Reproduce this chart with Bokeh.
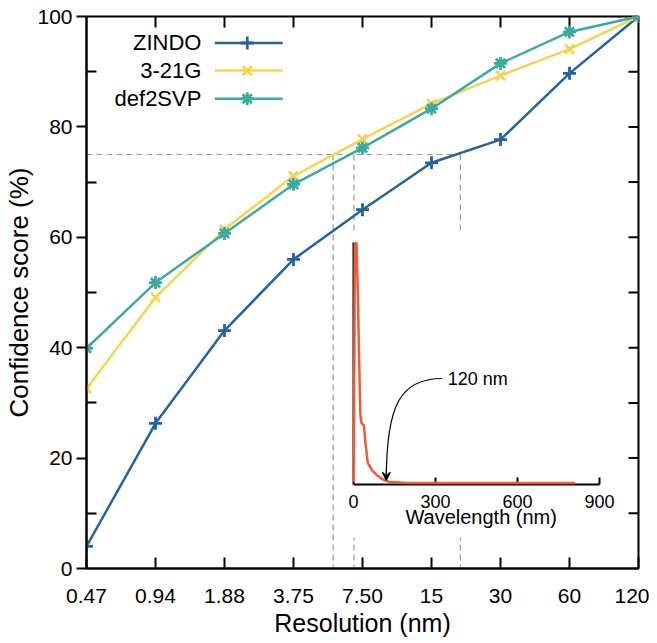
import math
from bokeh.plotting import figure
from bokeh.models import Range1d, LinearAxis, FixedTicker, Arrow, VeeHead
from bokeh.core.properties import value
from bokeh.embed import file_html
from bokeh.resources import INLINE

# ---------------- data ----------------
resolutions = ["0.47", "0.94", "1.88", "3.75", "7.50", "15", "30", "60", "120"]
zindo = [4.0, 26.3, 43.1, 56.0, 65.0, 73.5, 77.7, 89.7, 100.0]
basis_321g = [32.6, 49.1, 61.4, 71.1, 77.8, 84.2, 89.3, 94.1, 100.0]
def2svp = [39.9, 51.8, 60.7, 69.6, 76.2, 83.3, 91.5, 97.2, 100.0]
series_names = ["ZINDO", "3-21G", "def2SVP"]

threshold = 75
# resolution (nm) at which each series reaches the threshold
res_at_threshold = [20.1, 5.6, 6.9]   # ZINDO, 3-21G, def2SVP

y_ticks = [0, 20, 40, 60, 80, 100]
y_minor = [10, 30, 50, 70, 90]

# inset spectrum
wavelength = [1, 5, 11, 16, 20, 25, 29, 38, 44, 52, 68, 87, 111, 135, 196, 400, 600, 812]
intensity = [0.01, 0.99, 1.0, 0.79, 0.55, 0.29, 0.255, 0.244, 0.17, 0.09, 0.058, 0.037,
             0.018, 0.010, 0.006, 0.006, 0.006, 0.006]
inset_ticks = [0, 300, 600, 900]
annot_wl = 120
annot_text = "120 nm"

# ---------------- style ----------------
FONT = "Liberation Sans"
colors = ["#23639f", "#f5d452", "#3aab9c"]
markers = ["cross", "x", "asterisk"]

W, H = 649, 643
BL, BR, BT, BB = 86, 11, 16, 75
FRAME_W, FRAME_H = W - BL - BR, H - BT - BB

p = figure(width=W, height=H,
           x_range=Range1d(0, len(resolutions) - 1), y_range=Range1d(0, 100),
           output_backend="svg", toolbar_location=None,
           x_axis_location=None, y_axis_location=None,
           min_border_left=BL, min_border_right=BR, min_border_top=BT, min_border_bottom=BB)
p.grid.visible = False
p.outline_line_color = "black"
p.outline_line_width = 2
p.background_fill_color = "white"
p.border_fill_color = "white"

idx = list(range(len(resolutions)))

def style_axis(ax):
    ax.axis_line_width = 2
    ax.axis_line_color = "black"
    ax.major_tick_line_width = 2
    ax.minor_tick_line_width = 2
    ax.major_tick_line_color = "black"
    ax.minor_tick_line_color = "black"
    ax.major_label_text_font = FONT
    ax.major_label_text_font_size = "21px"
    ax.major_label_text_color = "black"
    ax.axis_label_text_font = FONT
    ax.axis_label_text_font_style = "normal"
    ax.axis_label_text_color = "black"

bottom = LinearAxis(ticker=FixedTicker(ticks=idx),
                    major_label_overrides={i: s for i, s in enumerate(resolutions)},
                    axis_label="Resolution (nm)")
style_axis(bottom)
bottom.major_tick_in = 11
bottom.major_tick_out = 0
bottom.major_label_standoff = 20
bottom.axis_label_standoff = 3
bottom.axis_label_text_font_size = "25px"
p.add_layout(bottom, "below")

left = LinearAxis(ticker=FixedTicker(ticks=y_ticks, minor_ticks=y_minor),
                  axis_label="Confidence score (%)")
style_axis(left)
left.major_tick_out = 10
left.major_tick_in = 0
left.minor_tick_in = 10
left.minor_tick_out = 0
left.major_label_standoff = 4
left.axis_label_standoff = 0
left.axis_label_text_font_size = "26px"
p.add_layout(left, "left")

# mirrored ticks on top and right (pointing inwards)
px_x = FRAME_W / (len(resolutions) - 1)
px_y = FRAME_H / 100.0
tick_color = dict(line_color="black", line_width=2)
inner = idx[1:-1]
p.segment(x0=inner, y0=[100] * len(inner), x1=inner, y1=[100 - 11 / px_y] * len(inner), **tick_color)
ry = sorted(y_ticks[1:-1] + y_minor)
p.segment(x0=[idx[-1]] * len(ry), y0=ry, x1=[idx[-1] - 10 / px_x] * len(ry), y1=ry, **tick_color)

# ---------------- threshold guide lines ----------------
cross_idx = [math.log2(r / float(resolutions[0])) for r in res_at_threshold]
guide = dict(line_color="#9a9a9a", line_width=1.2, line_dash="6 4")
p.segment(x0=[0], y0=[threshold], x1=[max(cross_idx)], y1=[threshold], **guide)
p.segment(x0=cross_idx, y0=[threshold] * 3, x1=cross_idx, y1=[0] * 3, **guide)

# ---------------- inset (mapped into frame fractions) ----------------
fx0, fx1 = (353 - 86) / 552, (599 - 86) / 552
fy0, fy1 = (568 - 484) / 552, (568 - 242) / 552
xspan = inset_ticks[-1]
x_start = -fx0 / (fx1 - fx0) * xspan
x_end = (1 - fx0) / (fx1 - fx0) * xspan
y_start = -fy0 / (fy1 - fy0)
y_end = (1 - fy0) / (fy1 - fy0)
p.extra_x_ranges = {"inset": Range1d(x_start, x_end)}
p.extra_y_ranges = {"inset": Range1d(y_start, y_end)}
ins = dict(x_range_name="inset", y_range_name="inset")
px_per_x = FRAME_W * (fx1 - fx0) / xspan
px_per_y = FRAME_H * (fy1 - fy0)

# white background of inset
p.quad(left=[-13 / px_per_x], right=[xspan + 26 / px_per_x],
       bottom=[-53 / px_per_y], top=[1 + 12 / px_per_y],
       fill_color="white", line_color=None, **ins)

# inset axes
p.segment(x0=[0], y0=[0], x1=[xspan], y1=[0], line_color="black", line_width=2, **ins)
p.segment(x0=[0], y0=[0], x1=[0], y1=[1], line_color="black", line_width=2, **ins)
tick_len = 7 / px_per_y
p.segment(x0=inset_ticks[1:], y0=[0] * 3, x1=inset_ticks[1:], y1=[tick_len] * 3,
          line_color="black", line_width=2, **ins)
p.text(x=inset_ticks, y=[0] * 4, text=[str(t) for t in inset_ticks],
       text_align="center", text_baseline="top", y_offset=10,
       text_font=value(FONT), text_font_size="18px", text_color="black", **ins)
p.text(x=[xspan / 2 + 17], y=[0], text=["Wavelength (nm)"],
       text_align="center", text_baseline="top", y_offset=21,
       text_font=value(FONT), text_font_size="20px", text_color="black", **ins)

p.line(wavelength, intensity, line_color="#ee5b3c", line_width=2.5, **ins)

# annotation arrow
ax0, ay0 = 325, 0.438
p.bezier(x0=[ax0], y0=[ay0], x1=[annot_wl], y1=[0.02],
         cx0=[172], cy0=[0.438], cx1=[annot_wl], cy1=[0.33],
         line_color="black", line_width=1.2, **ins)
p.add_layout(Arrow(end=VeeHead(size=8, line_color="black", line_width=1.2),
                   x_start=annot_wl, y_start=0.06, x_end=annot_wl, y_end=0.018,
                   line_color="black", line_width=1.2, **ins))
p.text(x=[ax0 + 20], y=[ay0], text=[annot_text], text_align="left", text_baseline="middle",
       text_font=value(FONT), text_font_size="18px", text_color="black", **ins)

# ---------------- series ----------------
all_series = [zindo, basis_321g, def2svp]
for vals, c, m in zip(all_series, colors, markers):
    p.line(idx, vals, line_color=c, line_width=2.5)
    p.scatter(idx, vals, marker=m, size=13, line_color=c, fill_color=c, line_width=2.8)

# ---------------- legend (manual, key on the right) ----------------
leg_y = [95.2, 90.2, 85.1]
leg_text_x = 1.665
leg_line = (1.86, 2.845)
leg_mark_x = 2.33
p.text(x=[leg_text_x] * 3, y=leg_y, text=series_names, text_align="right",
       text_baseline="middle", text_font=value(FONT), text_font_size="22px", text_color="black")
for yy, c, m in zip(leg_y, colors, markers):
    p.segment(x0=[leg_line[0]], y0=[yy], x1=[leg_line[1]], y1=[yy], line_color=c, line_width=2.5)
    p.scatter([leg_mark_x], [yy], marker=m, size=13, line_color=c, fill_color=c, line_width=2.8)

open("out.html", "w").write(file_html(p, INLINE))
